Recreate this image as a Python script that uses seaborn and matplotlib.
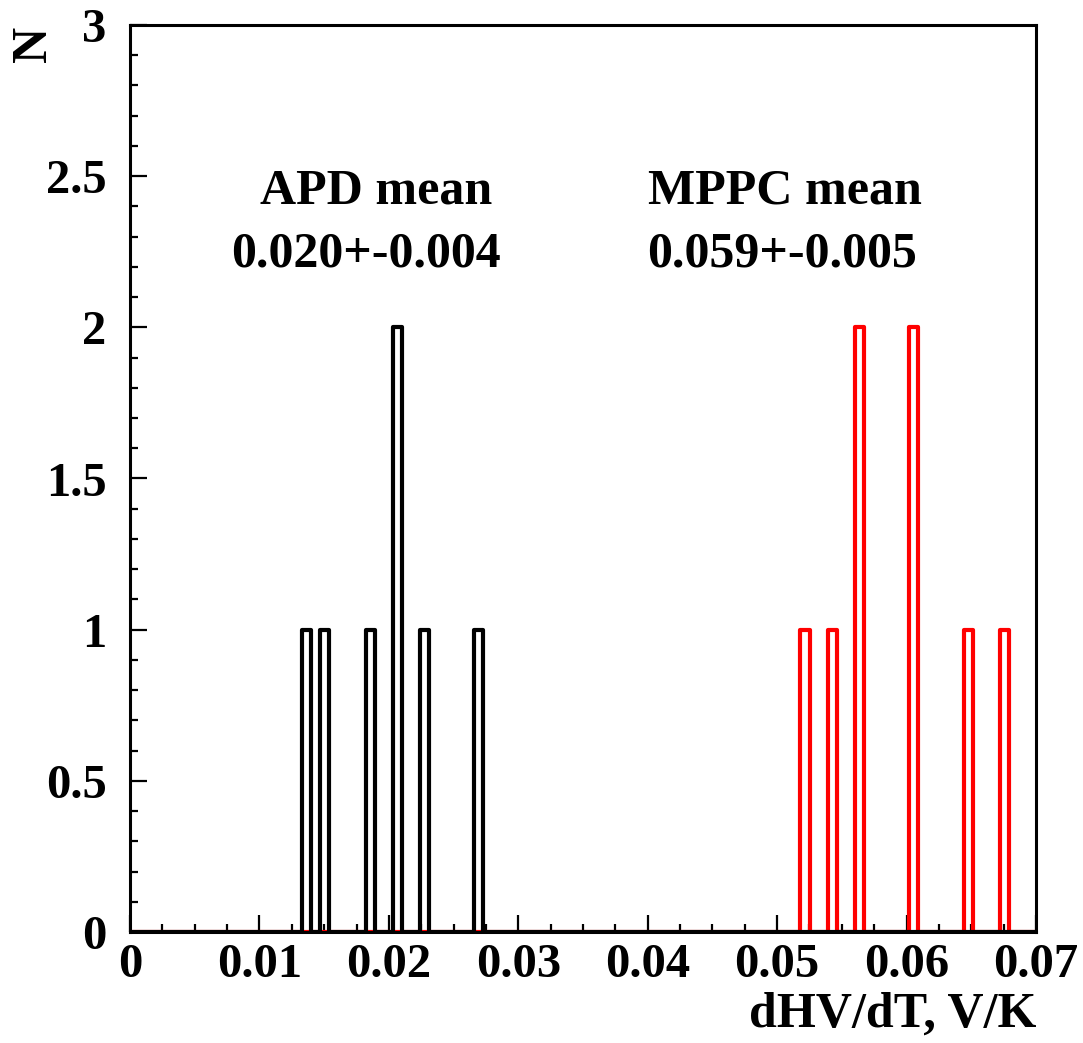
import matplotlib
matplotlib.use("Agg")
import matplotlib.pyplot as plt
import seaborn as sns
from matplotlib.ticker import MultipleLocator, FuncFormatter

apd_values = [0.01365, 0.01505, 0.01855, 0.02065, 0.02065, 0.02275, 0.02695]
mppc_values = [0.05215, 0.05425, 0.05635, 0.05635, 0.06055, 0.06055, 0.06475, 0.06755]
n_bins = 100
x_range = (0.0, 0.07)
apd_label = ["APD mean", "0.020+-0.004"]
mppc_label = ["MPPC mean", "0.059+-0.005"]
x_ticks = [0, 0.01, 0.02, 0.03, 0.04, 0.05, 0.06, 0.07]
y_ticks = [0, 0.5, 1, 1.5, 2, 2.5, 3]

sns.set_style("white")
plt.rcParams["font.family"] = ["Liberation Serif", "DejaVu Serif"]
plt.rcParams["font.weight"] = "bold"
plt.rcParams["text.color"] = "black"
plt.rcParams["xtick.color"] = "black"
plt.rcParams["ytick.color"] = "black"
plt.rcParams["axes.labelcolor"] = "black"

fig = plt.figure(figsize=(10.83, 10.43), dpi=100)
ax = fig.add_axes([130/1083, 111/1043, 906/1083, 907/1043])

sns.histplot(x=mppc_values, bins=n_bins, binrange=x_range, element="step",
             fill=False, color="#ff0000", linewidth=3.0, ax=ax)
sns.histplot(x=apd_values, bins=n_bins, binrange=x_range, element="step",
             fill=False, color="black", linewidth=3.0, ax=ax)

ax.set_xlim(*x_range)
ax.set_ylim(0, 3)
ax.set_xticks(x_ticks)
ax.set_yticks(y_ticks)
ax.xaxis.set_minor_locator(MultipleLocator(0.0025))
ax.yaxis.set_minor_locator(MultipleLocator(0.1))

def fmt(v, pos):
    return f"{v:g}"
ax.xaxis.set_major_formatter(FuncFormatter(fmt))
ax.yaxis.set_major_formatter(FuncFormatter(fmt))

ax.tick_params(axis="both", which="major", direction="in", length=12, width=1.6,
               labelsize=35, color="black", labelcolor="black")
ax.tick_params(axis="both", which="minor", direction="in", length=6, width=1.6,
               color="black")
ax.tick_params(axis="x", which="major", pad=8)
ax.tick_params(axis="y", which="major", pad=17)
ax.tick_params(bottom=True, left=True, top=False, right=False, which="both")
for lab in ax.get_xticklabels() + ax.get_yticklabels():
    lab.set_fontweight("bold")

for sp in ax.spines.values():
    sp.set_linewidth(2.2)
    sp.set_color("black")

ax.set_xlabel("")
ax.set_ylabel("")
fig.text(1036/1083, 1 - 1015/1043, "dHV/dT, V/K", ha="right", va="center",
         fontsize=36, fontweight="bold", color="black")
fig.text(34/1083, 1 - 44/1043, "N", ha="center", va="center", rotation=90,
         fontsize=36, fontweight="bold", color="black")

ax.text(0.0190, 2.45, apd_label[0], ha="center", va="center", fontsize=36, fontweight="bold", color="black")
ax.text(0.0182, 2.24, apd_label[1], ha="center", va="center", fontsize=36, fontweight="bold", color="black")
ax.text(0.0506, 2.45, mppc_label[0], ha="center", va="center", fontsize=36, fontweight="bold", color="black")
ax.text(0.0504, 2.24, mppc_label[1], ha="center", va="center", fontsize=36, fontweight="bold", color="black")

fig.savefig("out.png", dpi=100, facecolor="white")
